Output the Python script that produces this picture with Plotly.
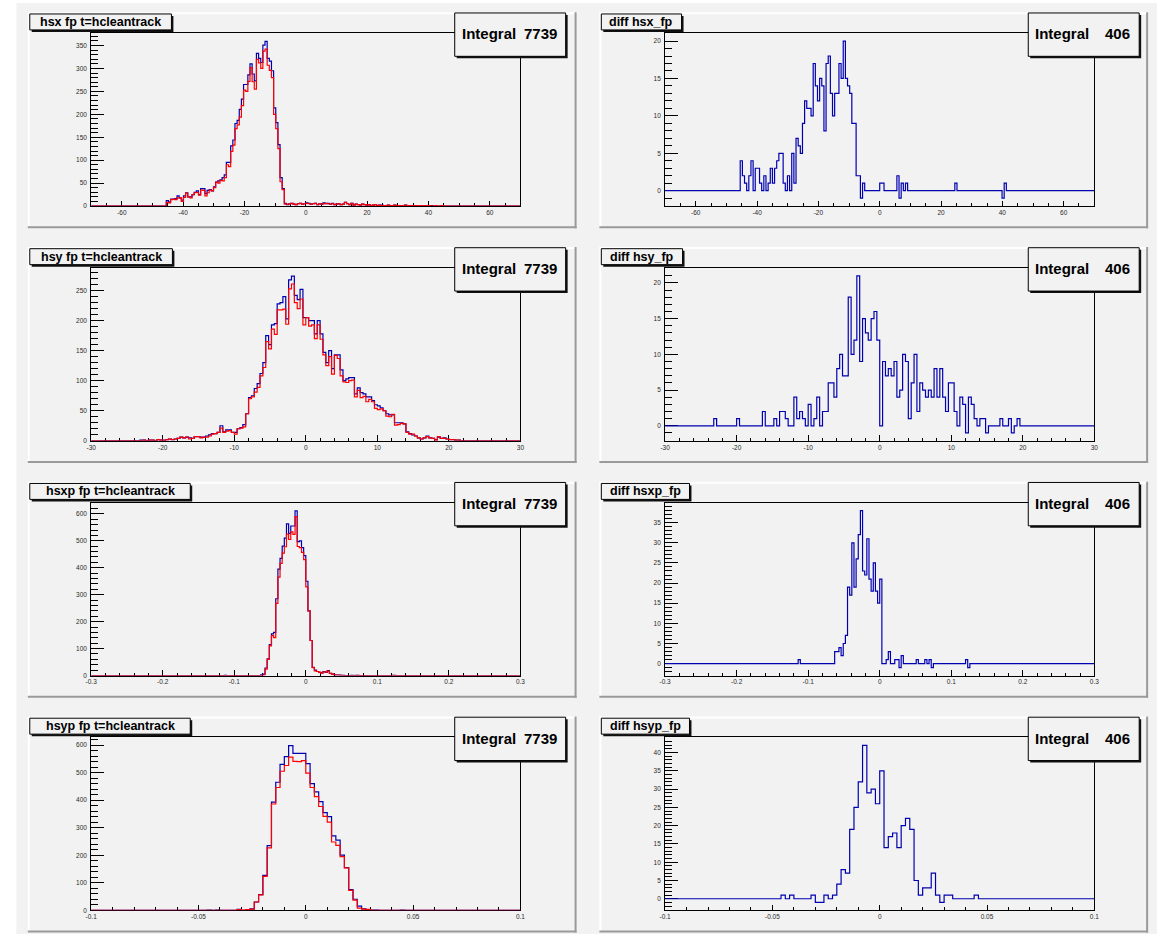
import plotly.graph_objects as go

W, H = 1165, 937

# ---------------- histogram definitions ----------------
HSX_NBINS, HSX_XMIN, HSX_XMAX = 200, -70.0, 70.0
HSY_NBINS, HSY_XMIN, HSY_XMAX = 150, -30.0, 30.0
HSXP_NBINS, HSXP_XMIN, HSXP_XMAX = 200, -0.3, 0.3
HSYP_NBINS, HSYP_XMIN, HSYP_XMAX = 100, -0.1, 0.1

# ---------------- bin contents (first non-empty bin index + values) ----------------
HSX_FIRST = 35
hsx_blue = [
    12, 9, 15, 15, 16, 22, 18, 13, 22, 29,
    20, 20, 25, 30, 33, 25, 38, 38, 27, 34,
    36, 33, 42, 52, 55, 57, 62, 68, 95, 95,
    131, 144, 180, 187, 211, 233, 265, 265, 286, 310,
    288, 273, 333, 322, 313, 351, 359, 322, 316, 295,
    214, 182, 134, 62, 38, 6,
    3, 5, 6, 4, 3, 5, 6, 4, 5, 7,
    6, 4, 5, 6, 3, 5, 4, 7, 5, 6,
    4, 6, 3, 4, 5, 3, 4, 8, 5, 3,
    6, 2, 4, 3, 2, 4, 3, 2, 3, 1,
    2, 3, 1, 2, 2, 1, 0, 2, 1, 1,
    2, 0, 1, 1, 0, 2, 0, 1, 1, 0,
    1, 0, 1, 0, 1, 0, 0, 1, 0, 1,
    0, 0, 1, 0,
]
hsx_red = [
    8, 7, 14, 15, 14, 18, 18, 10, 19, 28,
    20, 18, 25, 29, 30, 24, 35, 34, 22, 29,
    35, 33, 40, 52, 50, 56, 55, 62, 90, 86,
    119, 133, 169, 177, 194, 219, 253, 250, 272, 302,
    271, 255, 320, 312, 300, 338, 342, 307, 296, 280,
    200, 169, 125, 53, 36, 4,
    4, 4, 6, 4, 3, 5, 6, 4, 5, 6,
    5, 4, 5, 6, 3, 5, 4, 5, 6, 5,
    4, 5, 3, 4, 5, 3, 4, 8, 5, 3,
    6, 2, 4, 3, 2, 4, 3, 2, 3, 1,
    2, 3, 1, 2, 1, 1, 0, 2, 1, 1,
    2, 0, 1, 1, 0, 2, 0, 1, 1, 0,
    1, 0, 1, 0, 1, 0, 1, 0, 0, 1,
    0, 0, 1, 0,
]
HSX_DIFF_FIRST = 35
hsx_diff = [
    4, 2, 1, 0, 2, 4, 0, 3, 3, 1,
    0, 2, 0, 1, 3, 1, 3, 4, 5, 5,
    1, 0, 2, 0, 5, 1, 7, 6, 5, 9,
    12, 11, 11, 10, 17, 14, 12, 15, 14, 8,
    17, 18, 13, 10, 13, 13, 17, 15, 20, 15,
    14, 13, 9, 9, 2, 2, -1, 1,
    0, 0, 0, 0, 0, 0, 0, 1, 1, 0,
    0, 0, 0, 0, 0, 2, -1, 1, 0, 1,
    0, 0, 0, 0, 0, 0, 0, 0, 0, 0,
    0, 0, 0, 0, 0, 0, 0, 0, 0, 0,
    0, 0, 1, 0, 0, 0, 0, 0, 0, 0,
    0, 0, 0, 0, 0, 0, 0, 0, 0, 0,
    0, 0, 0, 0, -1, 1,
]

HSY_FIRST = 17
hsy_blue = [
    1, 1, 0, 1, 1, 0, 2, 1, 1, 2,
    3, 2, 3, 4, 6, 5, 6, 5, 4, 7,
    7, 6, 6, 8, 10, 12, 12, 14, 25, 15,
    18, 18, 14, 14, 20, 22, 27, 45, 72, 75,
    87, 95, 112, 130, 175, 160, 193, 195, 228, 230,
    240, 203, 268, 274, 242, 235, 252, 205, 205, 200,
    200, 178, 200, 178, 147, 130, 150, 120, 143, 143,
    118, 100, 103, 105, 105, 78, 88, 80, 78, 73,
    73, 67, 60, 58, 55, 50, 45, 43, 43, 30,
    30, 30, 28, 15, 12, 10, 8, 5, 3, 5,
    8, 5, 4, 2, 6, 4, 5, 3, 2, 2,
    1, 1,
]
hsy_red = [
    0, 1, 0, 1, 1, 0, 2, 1, 0, 2,
    3, 2, 3, 4, 6, 5, 6, 3, 4, 7,
    7, 5, 6, 6, 8, 11, 12, 14, 21, 14,
    16, 17, 14, 11, 20, 21, 23, 45, 70, 73,
    81, 89, 108, 122, 165, 153, 186, 177, 218, 218,
    219, 194, 253, 261, 230, 220, 236, 193, 205, 191,
    193, 170, 193, 169, 143, 125, 140, 111, 142, 137,
    108, 98, 97, 100, 101, 73, 84, 72, 74, 65,
    69, 65, 54, 52, 53, 50, 41, 40, 44, 26,
    27, 29, 28, 14, 11, 11, 8, 5, 3, 5,
    7, 5, 4, 1, 7, 4, 4, 3, 2, 2,
    1, 1,
]
HSY_DIFF_FIRST = 17
hsy_diff = [
    1, 0, 0, 0, 0, 0, 0, 0, 1, 0,
    0, 0, 0, 0, 0, 0, 0, 2, 0, 0,
    0, 1, 0, 2, 2, 1, 0, 0, 4, 1,
    2, 1, 0, 3, 0, 1, 4, 0, 2, 2,
    6, 6, 4, 8, 10, 7, 7, 18, 10, 12,
    21, 9, 15, 13, 12, 15, 16, 12, 0, 9,
    7, 8, 7, 9, 4, 5, 10, 9, 1, 6,
    10, 2, 6, 5, 4, 5, 4, 8, 4, 8,
    4, 2, 6, 6, 2, 0, 4, 3, -1, 4,
    3, 1, 0, 1, 1, -1, 0, 0, 0, 0,
    1, 0, 0, 1, -1, 0, 1,
]

HSXP_FIRST = 62
hsxp_blue = [
    1, 0, 0, 0, 0, 0, 0, 0, 0, 0,
    0, 0, 0, 0, 0, 0, 0, 3, 5, 28,
    62, 115, 155, 160, 285, 395, 435, 480, 510, 563,
    528, 555, 555, 611, 497, 500, 475, 445, 350, 240,
    130, 30, 20, 15, 12, 10, 15, 12, 18, 8,
    5, 3, 2, 2, 1, 1, 0, 0, 0, 1,
    0, 1, 0, 0, 0, 0, 0, 0, 0, 0,
    0, 0, 0, 0, 0, 0, 0, 0, 1, 0,
]
hsxp_red = [
    0, 0, 0, 0, 0, 0, 0, 0, 0, 0,
    0, 0, 0, 0, 0, 0, 0, 0, 2, 24,
    60, 110, 148, 141, 268, 365, 416, 454, 478, 525,
    505, 533, 524, 590, 479, 475, 457, 430, 329, 240,
    130, 29, 17, 15, 12, 9, 14, 13, 16, 8,
    5, 3, 2, 2, 1, 0, 0, 0, 0, 0,
    0, 0, 1, 0, 0, 0, 0, 0, 0, 0,
    0, 0, 0, 0, 0, 0, 0, 0, 0, 1,
]
HSXP_DIFF_FIRST = 62
hsxp_diff = [
    1, 0, 0, 0, 0, 0, 0, 0, 0, 0,
    0, 0, 0, 0, 0, 0, 0, 3, 3, 4,
    2, 5, 7, 19, 17, 30, 19, 26, 32, 38,
    23, 22, 31, 21, 18, 25, 18, 15, 21, 0,
    0, 1, 3, 0, 0, 1, 1, -1, 2, 0,
    0, 0, 0, 0, 0, 1, 0, 0, 0, 1,
    0, 1, -1, 0, 0, 0, 0, 0, 0, 0,
    0, 0, 0, 0, 0, 0, 0, 0, 1, -1,
]

HSYP_FIRST = 27
hsyp_blue = [
    1, 0, 1, 0, 0, 0, 0, 3, 0, 1,
    5, 30, 57, 127, 235, 393, 465, 530, 558, 598,
    570, 570, 570, 533, 460, 430, 395, 355, 340, 270,
    255, 200, 155, 75, 40, 15, 5, 2, 1, 1,
    0, 0, 0, 0, 0, 1,
]
hsyp_red = [
    0, 0, 0, 0, 0, 0, 0, 2, 1, 2,
    4, 30, 56, 123, 227, 386, 446, 505, 526, 556,
    541, 540, 544, 498, 446, 413, 377, 341, 320, 248,
    236, 195, 154, 72, 37, 8, 4, 3, 0, 0,
    0, 0, 0, 0, 0, 0,
]
HSYP_DIFF_FIRST = 27
hsyp_diff = [
    1, 0, 1, 0, 0, 0, 0, 1, -1, -1,
    1, 0, 1, 4, 8, 7, 19, 25, 32, 42,
    29, 30, 26, 35, 14, 17, 18, 14, 20, 22,
    19, 5, 1, 3, 3, 7, 1, -1, 1, 1,
    0, 0, 0, 0, 0, 1,
]

# ---------------- texts and tick labels ----------------
titles = ["hsx fp t=hcleantrack", "diff hsx_fp",
          "hsy fp t=hcleantrack", "diff hsy_fp",
          "hsxp fp t=hcleantrack", "diff hsxp_fp",
          "hsyp fp t=hcleantrack", "diff hsyp_fp"]
integrals = ["7739", "406", "7739", "406", "7739", "406", "7739", "406"]

hsx_xticks = [-60, -40, -20, 0, 20, 40, 60]
hsx_xtext = ["-60", "-40", "-20", "0", "20", "40", "60"]
hsy_xticks = [-30, -20, -10, 0, 10, 20, 30]
hsy_xtext = ["-30", "-20", "-10", "0", "10", "20", "30"]
hsxp_xticks = [-0.3, -0.2, -0.1, 0, 0.1, 0.2, 0.3]
hsxp_xtext = ["-0.3", "-0.2", "-0.1", "0", "0.1", "0.2", "0.3"]
hsyp_xticks = [-0.1, -0.05, 0, 0.05, 0.1]
hsyp_xtext = ["-0.1", "-0.05", "0", "0.05", "0.1"]

hsx_yticks = [0, 50, 100, 150, 200, 250, 300, 350]
hsy_yticks = [0, 50, 100, 150, 200, 250]
hsxp_yticks = [0, 100, 200, 300, 400, 500, 600]
hsyp_yticks = [0, 100, 200, 300, 400, 500, 600]
diff20_yticks = [0, 5, 10, 15, 20]
diff40_yticks = [0, 5, 10, 15, 20, 25, 30, 35, 40]

BLUE = "#0000b0"
RED = "#ff0000"
PAD = "#f2f2f2"
FONT = "Liberation Sans, Arial, Helvetica, sans-serif"


def full(nbins, first, vals):
    arr = [0] * nbins
    arr[first:first + len(vals)] = vals
    return arr


def edges(nbins, xmin, xmax):
    return [xmin + (xmax - xmin) * k / nbins for k in range(nbins + 1)]


def yrange_pos(*series):
    m = max(max(s) for s in series)
    return [0, m * 1.05]


def yrange_diff(s):
    lo, hi = min(s), max(s)
    d = (hi - lo) * 0.05
    return [lo - d, hi + d]


hsx_b = full(HSX_NBINS, HSX_FIRST, hsx_blue)
hsx_r = full(HSX_NBINS, HSX_FIRST, hsx_red)
hsx_d = full(HSX_NBINS, HSX_DIFF_FIRST, hsx_diff)
hsy_b = full(HSY_NBINS, HSY_FIRST, hsy_blue)
hsy_r = full(HSY_NBINS, HSY_FIRST, hsy_red)
hsy_d = full(HSY_NBINS, HSY_DIFF_FIRST, hsy_diff)
hsxp_b = full(HSXP_NBINS, HSXP_FIRST, hsxp_blue)
hsxp_r = full(HSXP_NBINS, HSXP_FIRST, hsxp_red)
hsxp_d = full(HSXP_NBINS, HSXP_DIFF_FIRST, hsxp_diff)
hsyp_b = full(HSYP_NBINS, HSYP_FIRST, hsyp_blue)
hsyp_r = full(HSYP_NBINS, HSYP_FIRST, hsyp_red)
hsyp_d = full(HSYP_NBINS, HSYP_DIFF_FIRST, hsyp_diff)

E_hsx = edges(HSX_NBINS, HSX_XMIN, HSX_XMAX)
E_hsy = edges(HSY_NBINS, HSY_XMIN, HSY_XMAX)
E_hsxp = edges(HSXP_NBINS, HSXP_XMIN, HSXP_XMAX)
E_hsyp = edges(HSYP_NBINS, HSYP_XMIN, HSYP_XMAX)

panels = [
    dict(edges=E_hsx, series=[(hsx_b, BLUE), (hsx_r, RED)], xr=[HSX_XMIN, HSX_XMAX],
         yr=yrange_pos(hsx_b, hsx_r), xt=(hsx_xticks, hsx_xtext), xminor=5,
         yt=hsx_yticks, yminor=10),
    dict(edges=E_hsx, series=[(hsx_d, BLUE)], xr=[HSX_XMIN, HSX_XMAX],
         yr=yrange_diff(hsx_d), xt=(hsx_xticks, hsx_xtext), xminor=5,
         yt=diff20_yticks, yminor=1),
    dict(edges=E_hsy, series=[(hsy_b, BLUE), (hsy_r, RED)], xr=[HSY_XMIN, HSY_XMAX],
         yr=yrange_pos(hsy_b, hsy_r), xt=(hsy_xticks, hsy_xtext), xminor=2,
         yt=hsy_yticks, yminor=10),
    dict(edges=E_hsy, series=[(hsy_d, BLUE)], xr=[HSY_XMIN, HSY_XMAX],
         yr=yrange_diff(hsy_d), xt=(hsy_xticks, hsy_xtext), xminor=2,
         yt=diff20_yticks, yminor=1),
    dict(edges=E_hsxp, series=[(hsxp_b, BLUE), (hsxp_r, RED)], xr=[HSXP_XMIN, HSXP_XMAX],
         yr=yrange_pos(hsxp_b, hsxp_r), xt=(hsxp_xticks, hsxp_xtext), xminor=0.02,
         yt=hsxp_yticks, yminor=20),
    dict(edges=E_hsxp, series=[(hsxp_d, BLUE)], xr=[HSXP_XMIN, HSXP_XMAX],
         yr=yrange_diff(hsxp_d), xt=(hsxp_xticks, hsxp_xtext), xminor=0.02,
         yt=diff40_yticks, yminor=1),
    dict(edges=E_hsyp, series=[(hsyp_b, BLUE), (hsyp_r, RED)], xr=[HSYP_XMIN, HSYP_XMAX],
         yr=yrange_pos(hsyp_b, hsyp_r), xt=(hsyp_xticks, hsyp_xtext), xminor=0.01,
         yt=hsyp_yticks, yminor=20),
    dict(edges=E_hsyp, series=[(hsyp_d, BLUE)], xr=[HSYP_XMIN, HSYP_XMAX],
         yr=yrange_diff(hsyp_d), xt=(hsyp_xticks, hsyp_xtext), xminor=0.01,
         yt=diff40_yticks, yminor=1),
]

# ---------------- layout geometry (pixels) ----------------
PAD_X = [(22, 576), (599, 1153)]
PAD_Y = (12.3, 229)
FRAME_X = [(86, 519.3), (665.4, 1098.7)]
FRAME_Y = (33.3, 206.7)
ROW = 235.5
TITLE_W = {0: 143, 1: 81, 2: 144, 3: 82, 4: 162, 5: 89, 6: 162, 7: 89}
STAT_X = [(453, 565), (1032, 1144)]
STAT_Y = (13, 56.5)


def X(p):
    return p / W


def Y(p):
    return 1 - p / H


fig = go.Figure()
shapes = []
annotations = []

# canvas background
shapes.append(dict(type="rect", xref="paper", yref="paper", x0=X(10.5), x1=X(1162), y0=Y(3), y1=Y(937),
                   fillcolor=PAD, line=dict(width=0), layer="below"))

tickfont = dict(family=FONT, size=6.5, color="#2a2a2a")

for i, p in enumerate(panels):
    r, c = divmod(i, 2)
    dy = ROW * r
    # pad with bevel
    px0, px1 = PAD_X[c]
    py0, py1 = PAD_Y[0] + dy, PAD_Y[1] + dy
    shapes.append(dict(type="rect", xref="paper", yref="paper", x0=X(px0), x1=X(px1), y0=Y(py1), y1=Y(py0),
                       fillcolor=PAD, line=dict(width=0), layer="below"))
    shapes.append(dict(type="line", xref="paper", yref="paper", x0=X(px0 + 1), x1=X(px0 + 1), y0=Y(py1), y1=Y(py0),
                       line=dict(color="#ffffff", width=2), layer="below"))
    shapes.append(dict(type="line", xref="paper", yref="paper", x0=X(px0), x1=X(px1), y0=Y(py0 + 1), y1=Y(py0 + 1),
                       line=dict(color="#ffffff", width=2), layer="below"))
    shapes.append(dict(type="line", xref="paper", yref="paper", x0=X(px1 - 1), x1=X(px1 - 1), y0=Y(py1), y1=Y(py0),
                       line=dict(color="#9a9a9a", width=2), layer="below"))
    shapes.append(dict(type="line", xref="paper", yref="paper", x0=X(px0), x1=X(px1), y0=Y(py1 - 1), y1=Y(py1 - 1),
                       line=dict(color="#9a9a9a", width=2), layer="below"))

    # axes
    fx0, fx1 = FRAME_X[c]
    fy0, fy1 = FRAME_Y[0] + dy, FRAME_Y[1] + dy
    sfx = "" if i == 0 else str(i + 1)
    xt_vals, xt_text = p["xt"]
    fig.update_layout(**{
        "xaxis" + sfx: dict(domain=[X(fx0), X(fx1)], range=p["xr"], anchor="y" + sfx,
                            showgrid=False, zeroline=False, showline=True, mirror=True,
                            linecolor="black", linewidth=1, layer="below traces",
                            ticks="inside", ticklen=5.5, tickwidth=1, tickcolor="black",
                            tickmode="array", tickvals=xt_vals, ticktext=xt_text,
                            tickfont=tickfont, ticklabelstandoff=0,
                            minor=dict(dtick=p["xminor"], tick0=0, ticks="inside", ticklen=3,
                                       tickwidth=1, tickcolor="black", showgrid=False)),
        "yaxis" + sfx: dict(domain=[Y(fy1), Y(fy0)], range=p["yr"], anchor="x" + sfx,
                            showgrid=False, zeroline=False, showline=True, mirror=True,
                            linecolor="black", linewidth=1, layer="below traces",
                            ticks="inside", ticklen=13, tickwidth=1, tickcolor="black",
                            tickmode="array", tickvals=p["yt"], ticktext=[str(v) for v in p["yt"]],
                            tickfont=tickfont, ticklabelstandoff=2,
                            minor=dict(dtick=p["yminor"], tick0=0, ticks="inside", ticklen=7,
                                       tickwidth=1, tickcolor="black", showgrid=False)),
    })

    for vals, col in p["series"]:
        fig.add_trace(go.Scatter(x=p["edges"], y=list(vals) + [vals[-1]], mode="lines",
                                 line=dict(shape="hv", color=col, width=1.2),
                                 xaxis="x" + sfx, yaxis="y" + sfx, hoverinfo="skip",
                                 showlegend=False))

    # title box
    tx0 = px0 + 2
    tx1 = tx0 + TITLE_W[i]
    ty0, ty1 = 14 + dy, 30 + dy
    shapes.append(dict(type="rect", xref="paper", yref="paper", x0=X(tx0 + 2), x1=X(tx1 + 2),
                       y0=Y(ty1 + 2), y1=Y(ty0 + 2), fillcolor="#111111", line=dict(width=0), layer="above"))
    shapes.append(dict(type="rect", xref="paper", yref="paper", x0=X(tx0), x1=X(tx1),
                       y0=Y(ty1), y1=Y(ty0), fillcolor=PAD, line=dict(color="black", width=1), layer="above"))
    annotations.append(dict(xref="paper", yref="paper", x=X((tx0 + tx1) / 2), y=Y((ty0 + ty1) / 2),
                            text=titles[i], showarrow=False, xanchor="center", yanchor="middle",
                            font=dict(family=FONT, size=12.5, color="black", weight="bold")))

    # statistics box
    sx0, sx1 = STAT_X[c]
    sy0, sy1 = STAT_Y[0] + dy, STAT_Y[1] + dy
    shapes.append(dict(type="rect", xref="paper", yref="paper", x0=X(sx0 + 2), x1=X(sx1 + 2),
                       y0=Y(sy1 + 2), y1=Y(sy0 + 2), fillcolor="#111111", line=dict(width=0), layer="above"))
    shapes.append(dict(type="rect", xref="paper", yref="paper", x0=X(sx0), x1=X(sx1),
                       y0=Y(sy1), y1=Y(sy0), fillcolor=PAD, line=dict(color="black", width=1), layer="above"))
    annotations.append(dict(xref="paper", yref="paper", x=X(sx0 + 5), y=Y(34 + dy),
                            text="Integral", showarrow=False, xanchor="left", yanchor="middle",
                            font=dict(family=FONT, size=15, color="black", weight="bold")))
    annotations.append(dict(xref="paper", yref="paper", x=X(sx1 - 7), y=Y(34 + dy),
                            text=integrals[i], showarrow=False, xanchor="right", yanchor="middle",
                            font=dict(family=FONT, size=15, color="black", weight="bold")))

fig.update_layout(width=W, height=H, margin=dict(l=0, r=0, t=0, b=0),
                  paper_bgcolor="#ffffff", plot_bgcolor=PAD, showlegend=False,
                  shapes=shapes, annotations=annotations)

fig.write_html("out.html", config={"displayModeBar": False},
               post_script="document.body.style.margin='0px';document.body.style.padding='0px';"
                           "document.body.style.overflow='hidden';")
